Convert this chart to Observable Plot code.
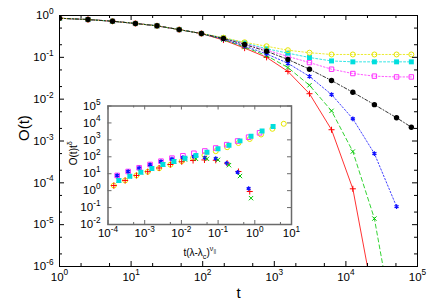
<!DOCTYPE html>
<html><head><meta charset="utf-8">
<script src="https://cdn.jsdelivr.net/npm/d3@7"></script>
<script src="https://cdn.jsdelivr.net/npm/@observablehq/plot@0.6"></script>
<style>
html,body{margin:0;padding:0;background:#fff;}
#wrap{position:relative;width:436px;height:305px;overflow:hidden;}
#wrap svg{position:absolute;}
</style></head><body><div id="wrap"></div>
<script>
// ---------- main plot data: O(t) ----------
const tMain = [1, 2.5, 5.5, 11.5, 23, 47, 96, 195, 385, 780, 1550, 3100, 6300, 12500, 25000, 51000, 82000];
const oRed     = [0.86, 0.80, 0.73, 0.645, 0.567, 0.46, 0.37, 0.259, 0.166, 0.100, 0.046, 0.0135, 0.00186, 7.2e-5, 1.3e-7];
const oGreen   = [0.86, 0.80, 0.73, 0.645, 0.567, 0.46, 0.37, 0.266, 0.176, 0.110, 0.057, 0.0215, 0.00525, 5.6e-4, 1.4e-5, 1.6e-8];
const oBlue    = [0.86, 0.80, 0.73, 0.645, 0.567, 0.46, 0.37, 0.272, 0.186, 0.121, 0.072, 0.035, 0.0129, 0.0034, 5.0e-4, 2.7e-5];
const oBlack   = [0.86, 0.80, 0.73, 0.645, 0.567, 0.46, 0.37, 0.282, 0.202, 0.140, 0.089, 0.052, 0.0279, 0.0146, 0.0074, 0.0036, 0.00214];
const oMagenta = [0.86, 0.80, 0.73, 0.645, 0.567, 0.46, 0.37, 0.288, 0.214, 0.150, 0.105, 0.075, 0.052, 0.041, 0.0355, 0.034, 0.034];
const oCyan    = [0.86, 0.80, 0.73, 0.645, 0.567, 0.46, 0.37, 0.292, 0.222, 0.160, 0.126, 0.099, 0.082, 0.078, 0.078, 0.078, 0.078];
const oYellow  = [0.86, 0.80, 0.73, 0.645, 0.567, 0.46, 0.37, 0.295, 0.229, 0.184, 0.148, 0.129, 0.117, 0.117, 0.117, 0.117, 0.117];

// ---------- inset data: O(t) t^delta vs t(lambda-lambda_c)^nu ----------
const xRedYellow = [1.44e-4, 2.93e-4, 5.96e-4, 1.21e-3, 2.47e-3, 5.02e-3, 1.02e-2, 2.08e-2, 4.25e-2, 8.63e-2, 0.176, 0.358, 0.728, 1.48, 3.02, 6.15];
const xBlueMagenta = [1.78e-4, 3.54e-4, 7.05e-4, 1.40e-3, 2.78e-3, 5.53e-3, 1.10e-2, 2.19e-2, 4.35e-2, 8.63e-2, 0.172, 0.341, 0.679, 1.35];
const xGreenCyan = [1.97e-4, 3.93e-4, 7.85e-4, 1.57e-3, 3.13e-3, 6.25e-3, 1.25e-2, 2.49e-2, 4.97e-2, 9.93e-2, 0.198, 0.395, 0.789, 1.58, 3.15];
const iRed     = [2.0, 4.0, 7.9, 13.2, 21.8, 35, 51, 60, 65, 62, 42, 13.5, 0.89];
const iYellow  = [2.0, 4.0, 7.9, 13, 21, 34, 55, 85, 125, 215, 368, 650, 1125, 2070, 4500, 8900];
const iBlue    = [7.9, 13.5, 21.8, 34, 53, 74, 91, 104, 89, 79, 42, 12.3, 1.34];
const iMagenta = [7.9, 13.5, 22.4, 35, 55, 83, 114, 161, 220, 330, 518, 857, 1435, 2610];
const iGreen   = [4.0, 7.1, 12.3, 20.3, 35, 53, 69, 76, 76, 66, 32, 7.3, 0.36];
const iCyan    = [4.0, 7.1, 12.3, 20.3, 35, 53, 83, 119, 187, 300, 484, 870, 1640, 3300, 6150];

// ---------- ticks ----------
const mainXMajor = [1, 10, 100, 1e3, 1e4, 1e5];
const mainXLabels = ["10^{0}", "10^{1}", "10^{2}", "10^{3}", "10^{4}", "10^{5}"];
const mainXMinor = [2, 5, 20, 50, 200, 500, 2e3, 5e3, 2e4, 5e4];
const mainYMajor = [1e-6, 1e-5, 1e-4, 1e-3, 1e-2, 1e-1, 1];
const mainYLabels = ["10^{-6}", "10^{-5}", "10^{-4}", "10^{-3}", "10^{-2}", "10^{-1}", "10^{0}"];
const mainYMinor = [2e-6, 5e-6, 2e-5, 5e-5, 2e-4, 5e-4, 2e-3, 5e-3, 2e-2, 5e-2, 0.2, 0.5];
const insXMajor = [1e-4, 1e-3, 1e-2, 1e-1, 1, 10];
const insXLabels = ["10^{-4}", "10^{-3}", "10^{-2}", "10^{-1}", "10^{0}", "10^{1}"];
const insXMinor = [5e-4, 5e-3, 5e-2, 0.5, 5];
const insYMajor = [1e-2, 1e-1, 1, 10, 100, 1e3, 1e4, 1e5];
const insYLabels = ["10^{-2}", "10^{-1}", "10^{0}", "10^{1}", "10^{2}", "10^{3}", "10^{4}", "10^{5}"];

const FONT = "'Liberation Sans', Arial, Helvetica, sans-serif";
const C = {red: "#ff0000", green: "#00c800", blue: "#1010ff", black: "#000000", magenta: "#ff30ff", cyan: "#00dede", yellow: "#e6e600"};

const pts = (xs, ys) => ys.map((y, i) => ({x: xs[i], y}));
const lab = (vals, labels) => vals.map((v, i) => ({v, s: labels[i]}));

function series(xs, ys, color, dash, sym, fill, r, sw, withLine) {
  const d = pts(xs, ys);
  const m = [];
  if (withLine) m.push(Plot.line(d, {x: "x", y: "y", stroke: color, strokeWidth: 1, strokeOpacity: 0.8, strokeDasharray: dash, clip: true}));
  m.push(Plot.dot(d, {x: "x", y: "y", symbol: sym, r, fill: fill ? color : "none", stroke: fill ? "none" : color, strokeWidth: sw, clip: true}));
  return m;
}

function ticks(xMaj, xMin, yMaj, yMin, W, H, stroke, maj, min) {
  const m = [];
  const add = (vals, len) => {
    m.push(Plot.ruleX(vals, {x: d => d, insetTop: H - len, stroke, strokeWidth: 1}));
    m.push(Plot.ruleX(vals, {x: d => d, insetBottom: H - len, stroke, strokeWidth: 1}));
  };
  const addY = (vals, len) => {
    m.push(Plot.ruleY(vals, {y: d => d, insetRight: W - len, stroke, strokeWidth: 1}));
    m.push(Plot.ruleY(vals, {y: d => d, insetLeft: W - len, stroke, strokeWidth: 1}));
  };
  add(xMaj, maj); add(xMin, min); addY(yMaj, maj); addY(yMin, min);
  return m;
}

// ---------- main plot ----------
const MW = 436, MH = 305, ML = 59, MR = 19, MT = 15, MB = 39;
const main = Plot.plot({
  width: MW, height: MH,
  marginLeft: ML, marginRight: MR, marginTop: MT, marginBottom: MB,
  style: {background: "transparent", fontFamily: FONT, overflow: "visible"},
  x: {type: "log", domain: [1, 1e5], axis: null},
  y: {type: "log", domain: [1e-6, 1], axis: null},
  marks: [
    ...series(tMain, oRed, C.red, null, "plus", false, 2.1, 1, true),
    ...series(tMain, oGreen, C.green, "4,3", "times", false, 2.1, 1, true),
    ...series(tMain, oBlue, C.blue, "1.5,2", "asterisk", false, 2.2, 1.3, true),
    ...series(tMain, oMagenta, C.magenta, "1.5,2", "square", false, 2.5, 1, true),
    ...series(tMain, oCyan, C.cyan, "2,2", "square", true, 2.8, 1, true),
    ...series(tMain, oYellow, C.yellow, "1.5,2", "circle", false, 2.5, 1, true),
    ...series(tMain, oBlack, C.black, "3,2,1,2", "circle", true, 2.7, 1, true),
    ...ticks(mainXMajor, mainXMinor, mainYMajor, mainYMinor, MW - ML - MR, MH - MT - MB, "black", 5, 3),
    Plot.frame({stroke: "black", strokeWidth: 1}),
    Plot.text(lab(mainXMajor, mainXLabels), {x: "v", text: "s", frameAnchor: "bottom", dy: 14, fontSize: 11.5, fill: "black"}),
    Plot.text(lab(mainYMajor, mainYLabels), {y: "v", text: "s", frameAnchor: "left", dx: -6, textAnchor: "end", fontSize: 11.5, fill: "black"}),
    Plot.text(["t"], {frameAnchor: "bottom", dy: 31, fontSize: 15, fill: "black"}),
    Plot.text(["O(t)"], {frameAnchor: "left", dx: -35, rotate: -90, fontSize: 15, fill: "black"})
  ]
});

// ---------- inset ----------
const IW = 240, IH = 170, IL = 47.5, IR = 9, IT = 10.5, IB = 41;
const GRAY = "#6a6a6a";
const inset = Plot.plot({
  width: IW, height: IH,
  marginLeft: IL, marginRight: IR, marginTop: IT, marginBottom: IB,
  style: {background: "transparent", fontFamily: FONT, overflow: "visible"},
  x: {type: "log", domain: [1e-4, 10], axis: null},
  y: {type: "log", domain: [1e-2, 1e5], axis: null},
  marks: [
    ...series(xRedYellow, iYellow, C.yellow, null, "circle", false, 2.5, 1, false),
    ...series(xRedYellow, iRed, C.red, null, "plus", false, 2.1, 1, false),
    ...series(xBlueMagenta, iMagenta, C.magenta, null, "square", false, 2.6, 1, false),
    ...series(xBlueMagenta, iBlue, C.blue, null, "asterisk", false, 2.1, 1.3, false),
    ...series(xGreenCyan, iGreen, C.green, null, "times", false, 2.1, 1, false),
    ...series(xGreenCyan, iCyan, C.cyan, null, "square", true, 2.8, 1, false),
    ...ticks(insXMajor, insXMinor, insYMajor, [], IW - IL - IR, IH - IT - IB, GRAY, 4, 2),
    Plot.frame({stroke: GRAY, strokeWidth: 1.5}),
    Plot.text(lab(insXMajor, insXLabels), {x: "v", text: "s", frameAnchor: "bottom", dy: 12.5, fontSize: 11.5, fill: "black"}),
    Plot.text(lab(insYMajor, insYLabels), {y: "v", text: "s", frameAnchor: "left", dx: -7.5, textAnchor: "end", fontSize: 11.5, fill: "black"}),
    Plot.text(["t(λ-λ_{c})^{ν_{||}}"], {frameAnchor: "bottom", dy: 31, fontSize: 10, fill: "black"}),
    Plot.text(["O(t)t^{δ}"], {frameAnchor: "left", dx: -34.5, rotate: -90, fontSize: 10, fill: "black"})
  ]
});

// ---------- rich text (superscripts / subscripts) ----------
function richify(svg) {
  svg.querySelectorAll("text").forEach(el => {
    const s = el.textContent;
    if (!/[\^_]\{/.test(s)) return;
    let fs = 11.5;
    let p = el;
    while (p && p !== svg) { const a = p.getAttribute && p.getAttribute("font-size"); if (a) { fs = parseFloat(a); break; } p = p.parentNode; }
    el.textContent = "";
    const stack = [{off: 0, size: fs}];
    let cur = 0, buf = "";
    const flush = () => {
      if (!buf) return;
      const top = stack[stack.length - 1];
      const ts = document.createElementNS("http://www.w3.org/2000/svg", "tspan");
      ts.setAttribute("dy", (top.off - cur).toFixed(2));
      ts.setAttribute("font-size", top.size.toFixed(2));
      ts.textContent = buf;
      el.appendChild(ts);
      cur = top.off; buf = "";
    };
    for (let i = 0; i < s.length; i++) {
      const c = s[i];
      if ((c === "^" || c === "_") && s[i + 1] === "{") {
        flush();
        const top = stack[stack.length - 1];
        stack.push({off: top.off + (c === "^" ? -0.45 * top.size : 0.3 * top.size), size: top.size * 0.72});
        i++;
      } else if (c === "}") { flush(); stack.pop(); }
      else buf += c;
    }
    flush();
  });
}
richify(main); richify(inset);

const wrap = document.getElementById("wrap");
main.style.left = "0px"; main.style.top = "0px";
inset.style.left = "60px"; inset.style.top = "95px";
wrap.appendChild(main);
wrap.appendChild(inset);
</script></body></html>
